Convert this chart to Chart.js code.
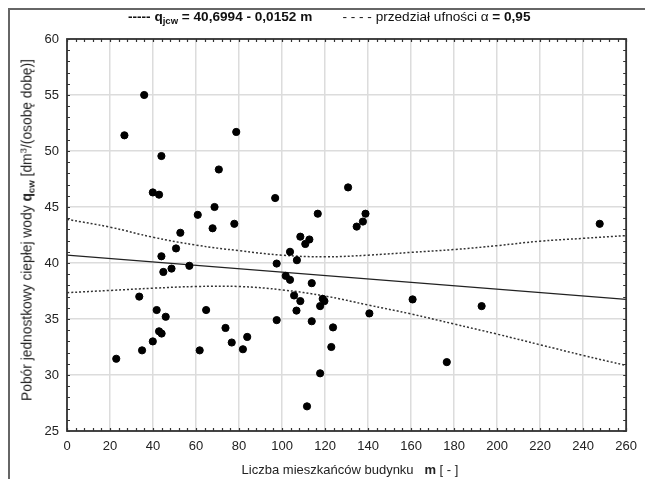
<!DOCTYPE html>
<html>
<head>
<meta charset="utf-8">
<script src="https://cdn.jsdelivr.net/npm/chart.js@4.4.1/dist/chart.umd.min.js"></script>
<style>
    body{margin:0;background:#fff;font-family:"Liberation Sans",Arial,sans-serif;}
    #wrap{position:relative;width:645px;height:479px;overflow:hidden;background:#fff;}
    #frame{position:absolute;left:8px;top:8px;right:-10px;bottom:-10px;border-left:2px solid #666;border-top:2px solid #666;}
    canvas{position:absolute;left:0;top:0;}
    .legend{position:absolute;top:9px;left:128px;font-size:13.6px;color:#111;white-space:nowrap;}
    .legend b{font-weight:bold;}
    .ytitle{position:absolute;left:27px;top:230px;transform:translate(-50%,-50%) rotate(-90deg);font-size:13.8px;color:#222;white-space:nowrap;}
    .xtitle{position:absolute;left:350px;top:469px;transform:translate(-50%,-50%);font-size:13px;color:#222;white-space:nowrap;}
    sub{font-size:70%;vertical-align:-3px;}
    sup{font-size:70%;vertical-align:5px;}
</style>
</head>
<body>
<div id="wrap">
    <div id="frame"></div>
    <canvas id="chart" width="645" height="479"></canvas>

    <div class="legend">
        <b>----- q<sub>jcw</sub> = 40,6994 - 0,0152 m</b>
        &nbsp;&nbsp;&nbsp;&nbsp;&nbsp;&nbsp;&nbsp;- - - - przedział ufności &alpha; <b>= 0,95</b>
    </div>
    <div class="ytitle">Pobór jednostkowy ciepłej wody <b>q<sub>cw</sub></b> [dm<sup>3</sup>/(osobę dobę)]</div>
    <div class="xtitle">Liczba mieszkańców budynku&nbsp;&nbsp; <b>m</b> [ - ]</div>
</div>

<script>
// measured points: m (residents), q (dm3 per person per day)
const residents = [
    22.9, 26.7, 33.6, 34.9, 35.9, 39.9, 39.9, 41.7, 42.8, 42.8,
    43.9, 43.9, 44.0, 44.8, 45.9, 48.6, 50.7, 52.7, 56.9, 60.8,
    61.7, 64.7, 67.7, 68.6, 70.6, 73.7, 76.6, 77.8, 78.7, 81.8,
    83.8, 96.8, 97.5, 97.5, 101.7, 103.7, 103.7, 105.6, 106.7, 106.9,
    108.5, 108.5, 110.8, 111.6, 112.7, 113.8, 113.8, 116.6, 117.7, 117.7,
    118.9, 119.7, 122.9, 123.7, 130.7, 134.7, 137.6, 138.8, 140.6, 160.7,
    176.6, 192.8, 247.7
];
const consumption = [
    31.45, 51.4, 37.0, 32.2, 55.0, 46.3, 33.0, 35.8, 46.1, 33.9,
    49.55, 40.6, 33.7, 39.2, 35.2, 39.5, 41.3, 42.7, 39.75, 44.3,
    32.2, 35.8, 43.1, 45.0, 48.35, 34.2, 32.9, 43.5, 51.7, 32.3,
    33.4, 45.8, 39.95, 34.9, 38.85, 41.0, 38.5, 37.1, 35.75, 40.25,
    42.35, 36.6, 41.7, 27.2, 42.1, 38.2, 34.8, 44.4, 36.15, 30.15,
    36.8, 36.6, 32.5, 34.25, 46.75, 43.25, 43.7, 44.4, 35.5, 36.75,
    31.15, 36.15, 43.5
];

// regression line ends
const fitX = [0, 260];
const fitY = [40.70, 36.75];

// confidence band (alpha = 0.95)
const bandX = [0, 20, 40, 60, 80, 100, 120, 140, 160, 180, 200, 220, 240, 260];
const bandUpper = [43.9, 43.2, 42.3, 41.6, 41.1, 40.7, 40.55, 40.7, 40.95, 41.2, 41.55, 41.95, 42.2, 42.45];
const bandLower = [37.35, 37.55, 37.75, 37.9, 37.9, 37.6, 37.05, 36.25, 35.45, 34.55, 33.65, 32.7, 31.75, 30.85];

const xTicks = [0, 20, 40, 60, 80, 100, 120, 140, 160, 180, 200, 220, 240, 260];
const yTicks = [25, 30, 35, 40, 45, 50, 55, 60];

const pairs = (xs, ys) => xs.map((x,i)=>({x, y:ys[i]}));

// frame on all 4 sides + small inner ticks
const framePlugin = {
    id:"frame",
    afterDatasetsDraw(chart){
        const {ctx, chartArea:a, scales:{x, y}} = chart;
        ctx.save();
        ctx.strokeStyle = "#333";
        ctx.lineWidth = 1.2;
        ctx.beginPath();
        for(let v=0; v<=260; v+=4){
            const px = Math.round(x.getPixelForValue(v))+0.5;
            ctx.moveTo(px, a.bottom); ctx.lineTo(px, a.bottom-3);
            ctx.moveTo(px, a.top); ctx.lineTo(px, a.top+3);
        }
        for(let v=25; v<=60; v++){
            const py = Math.round(y.getPixelForValue(v))+0.5;
            ctx.moveTo(a.left, py); ctx.lineTo(a.left+3, py);
            ctx.moveTo(a.right, py); ctx.lineTo(a.right-3, py);
        }
        ctx.stroke();
        ctx.lineWidth = 1.8;
        ctx.strokeRect(a.left, a.top, a.right-a.left, a.bottom-a.top);
        ctx.restore();
    }
};

new Chart(document.getElementById("chart"),{
    type:"scatter",
    data:{
        datasets:[
            {
                data:pairs(residents, consumption),
                backgroundColor:"#000",
                borderColor:"#000",
                pointRadius:3.6,
                pointHoverRadius:3.6
            },
            {
                data:pairs(fitX, fitY),
                showLine:true,
                borderColor:"#222",
                borderWidth:1.3,
                pointRadius:0
            },
            {
                data:pairs(bandX, bandUpper),
                showLine:true,
                borderColor:"#333",
                borderWidth:1.5,
                borderDash:[2,2],
                tension:0.4,
                pointRadius:0
            },
            {
                data:pairs(bandX, bandLower),
                showLine:true,
                borderColor:"#333",
                borderWidth:1.5,
                borderDash:[2,2],
                tension:0.4,
                pointRadius:0
            }
        ]
    },
    options:{
        responsive:false,
        animation:false,
        layout:{padding:{left:0, top:39, right:12, bottom:0}},
        plugins:{legend:{display:false}, tooltip:{enabled:false}},
        scales:{
            x:{
                type:"linear",
                min:0, max:260,
                afterBuildTicks:s=>{ s.ticks = xTicks.map(v=>({value:v})); },
                afterFit:s=>{ s.height = 48; },
                grid:{color:"#dcdcdc", lineWidth:1.5, drawTicks:false},
                border:{display:false},
                ticks:{color:"#222", padding:8, maxRotation:0, font:{family:"Liberation Sans", size:13}}
            },
            y:{
                type:"linear",
                min:25, max:60,
                afterBuildTicks:s=>{ s.ticks = yTicks.map(v=>({value:v})); },
                afterFit:s=>{ s.width = 67; },
                grid:{color:"#dcdcdc", lineWidth:1.5, drawTicks:false},
                border:{display:false},
                ticks:{color:"#222", padding:8, font:{family:"Liberation Sans", size:13}}
            }
        }
    },
    plugins:[framePlugin]
});
</script>
</body>
</html>
